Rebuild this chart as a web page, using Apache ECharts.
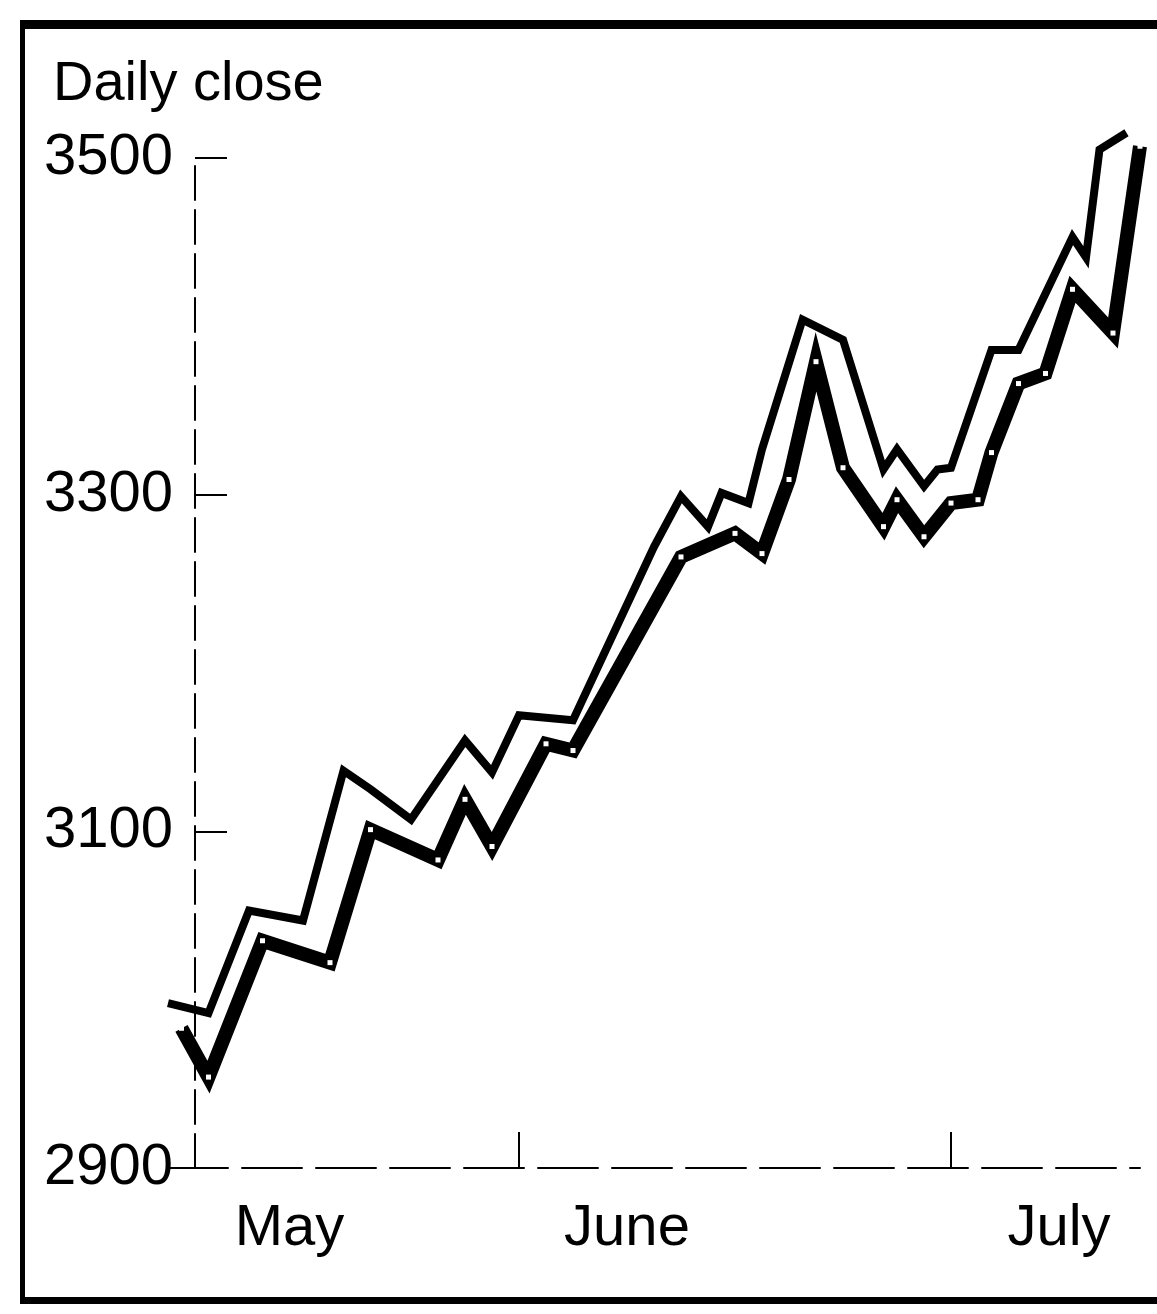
<!DOCTYPE html>
<html>
<head>
<meta charset="utf-8">
<script src="https://cdn.jsdelivr.net/npm/echarts@6/dist/echarts.min.js"></script>
<style>
  html, body { margin: 0; padding: 0; background: #fff; }
  #frame { position: absolute; left: 20px; top: 20px; width: 1200px; height: 1284px; border: 5px solid #000; border-top-width: 9px; border-bottom-width: 7px; box-sizing: border-box; }
  #chart { position: absolute; left: 0; top: 0; width: 1157px; height: 1314px; }
</style>
</head>
<body>
<div id="frame"></div>
<div id="chart"></div>
<script>
// Day offsets (trading timeline, day 0 at the y-axis) and daily closes
const lowerDays  = [-1, 1, 5, 10, 13, 18, 20, 22, 26, 28, 36, 40, 42, 44, 46, 48, 51, 52, 54, 56, 58, 59, 61, 63, 65, 68, 70];
const lowerClose = [2983, 2954, 3035, 3022, 3101, 3083, 3119, 3091, 3152, 3148, 3263, 3277, 3265, 3309, 3379, 3316, 3281, 3297, 3275, 3295, 3297, 3325, 3366, 3372, 3422, 3396, 3507];

const upperDays  = [-2, 1, 4, 8, 11, 13, 16, 20, 22, 24, 28, 34, 36, 38, 39, 41, 42, 45, 48, 51, 52, 54, 55, 56, 59, 61, 65, 66, 67, 69];
const upperClose = [2998, 2992, 3053, 3047, 3136, 3125, 3107, 3154, 3135, 3169, 3166, 3269, 3299, 3281, 3301, 3295, 3327, 3404, 3392, 3315, 3327, 3305, 3315, 3316, 3386, 3386, 3453, 3441, 3505, 3515];

const monthLabelDays = [7, 32, 64];
const monthLabels    = ['May', 'June', 'July'];
const monthTickDays  = [24, 56];

const yTicks = [2900, 3100, 3300, 3500];

const chart = echarts.init(document.getElementById('chart'), null, { renderer: 'canvas' });
const font = '"Liberation Sans", Arial, sans-serif';

chart.setOption({
  animation: false,
  backgroundColor: 'transparent',
  title: {
    text: 'Daily close',
    left: 48,
    top: 52,
    textStyle: { fontFamily: font, fontSize: 56, fontWeight: 'normal', color: '#000' }
  },
  grid: { left: 168, right: 17, top: 158, bottom: 146, containLabel: false },
  xAxis: {
    type: 'value',
    min: -2,
    max: 70,
    splitLine: { show: false },
    axisLine: { show: true, lineStyle: { color: '#000', width: 2, type: [60, 14] } },
    axisTick: { show: true, inside: true, length: 36, customValues: monthTickDays, lineStyle: { color: '#000', width: 2 } },
    axisLabel: {
      customValues: monthLabelDays,
      formatter: function (v) {
        const i = monthLabelDays.indexOf(v);
        return i >= 0 ? monthLabels[i] : '';
      },
      margin: 32,
      fontFamily: font,
      fontSize: 58,
      color: '#000'
    }
  },
  yAxis: {
    type: 'value',
    min: yTicks[0],
    max: yTicks[yTicks.length - 1],
    interval: 200,
    splitLine: { show: false },
    axisLine: { show: true, onZero: true, lineStyle: { color: '#000', width: 2, type: [34, 10] } },
    axisTick: { show: true, inside: true, length: 32, lineStyle: { color: '#000', width: 2 } },
    axisLabel: {
      margin: -5, fontFamily: font, fontSize: 58, color: '#000',
      padding: [8, 0, 0, 0],
      formatter: function (v) { return String(v); }
    }
  },
  series: [
    {
      name: 'Upper',
      type: 'line',
      clip: false,
      showSymbol: false,
      data: upperDays.map((d, i) => [d, upperClose[i]]),
      lineStyle: { color: '#000', width: 8, join: 'miter' },
      z: 3
    },
    {
      name: 'Daily close',
      type: 'line',
      clip: false,
      showSymbol: true,
      symbol: 'rect',
      symbolSize: 5,
      data: lowerDays.map((d, i) => [d, lowerClose[i]]),
      itemStyle: { color: '#fff', borderWidth: 0 },
      lineStyle: { color: '#000', width: 14, join: 'miter' },
      z: 4
    }
  ]
});
</script>
</body>
</html>
